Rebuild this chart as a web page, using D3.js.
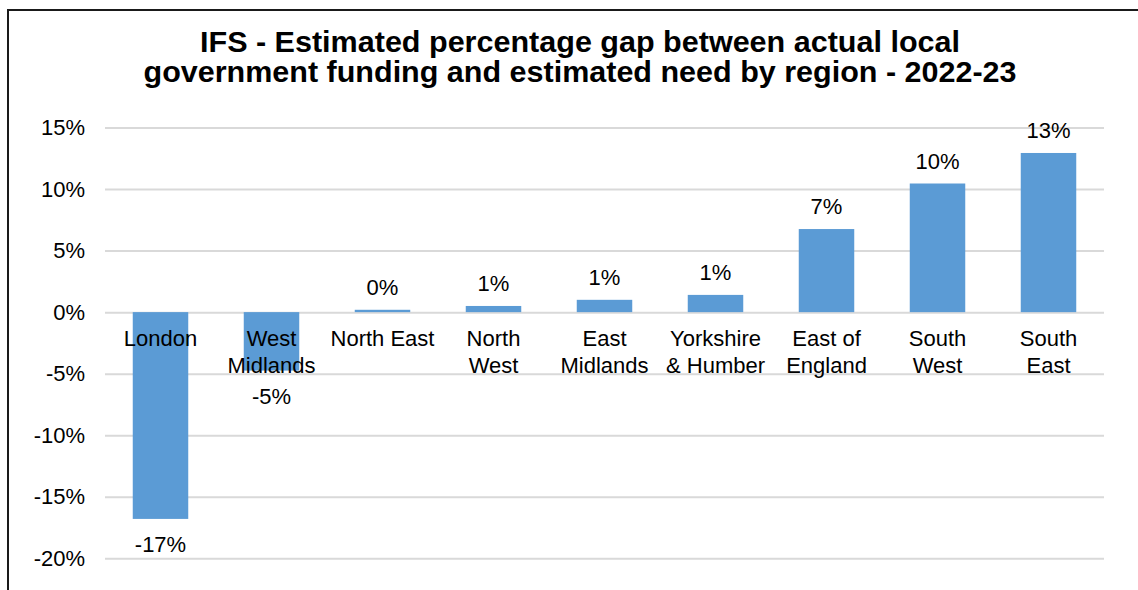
<!DOCTYPE html>
<html>
<head>
<meta charset="utf-8">
<script src="https://cdn.jsdelivr.net/npm/d3@7"></script>
<style>
  body { margin: 0; background: #fff; }
  text { font-family: Arial, "Liberation Sans", sans-serif; fill: #000; }
</style>
</head>
<body>
<svg width="1138" height="590"></svg>
<script>
let svg = d3.select("svg");

// data
let regions = ["London", "West Midlands", "North East", "North West", "East Midlands",
  "Yorkshire & Humber", "East of England", "South West", "South East"];
let labelLines = [["London"], ["West", "Midlands"], ["North East"], ["North", "West"],
  ["East", "Midlands"], ["Yorkshire", "& Humber"], ["East of", "England"],
  ["South", "West"], ["South", "East"]];
let gap = [-16.8, -4.75, 0.19, 0.5, 1.0, 1.4, 6.75, 10.45, 12.93];
let yTicks = [-20, -15, -10, -5, 0, 5, 10, 15];
let titleLines = ["IFS - Estimated percentage gap between actual local",
  "government funding and estimated need by region - 2022-23"];

let x = d3.scaleBand().domain(regions).range([105, 1104])
  .paddingInner(0.5).paddingOuter(0.25);
let y = d3.scaleLinear().domain([-20, 15]).range([558.3, 127.5]);

//frame
svg.append("rect")
  .attr("x", 8).attr("y", 10)
  .attr("width", 1300).attr("height", 700)
  .attr("fill", "none").attr("stroke", "#1a1a1a").attr("stroke-width", 2);

//title
svg.selectAll(".title")
  .data(titleLines)
  .enter()
  .append("text")
  .attr("class", "title")
  .attr("x", 580)
  .attr("y", (d, i) => 52 + i * 30)
  .attr("text-anchor", "middle")
  .attr("font-size", 30)
  .attr("font-weight", "bold")
  .attr("textLength", (d, i) => (i == 0 ? 760 : 873))
  .attr("lengthAdjust", "spacingAndGlyphs")
  .text(d => d);

//gridlines + y labels
let yAxis = svg.append("g")
  .attr("transform", "translate(105,0)")
  .call(d3.axisLeft(y).tickValues(yTicks).tickSize(-999).tickFormat(d => d + "%"));
yAxis.select(".domain").remove();
yAxis.selectAll("line").attr("stroke", "#d9d9d9").attr("stroke-width", 2);
yAxis.selectAll("text")
  .attr("x", -20)
  .attr("font-size", 22)
  .attr("font-family", "Arial, 'Liberation Sans', sans-serif")
  .attr("fill", "#000");

//bars
svg.selectAll(".bar")
  .data(gap)
  .enter()
  .append("rect")
  .attr("class", "bar")
  .attr("fill", "#5B9BD5")
  .attr("x", (d, i) => x(regions[i]))
  .attr("width", x.bandwidth())
  .attr("y", d => y(Math.max(0, d)))
  .attr("height", d => Math.abs(y(d) - y(0)));

//value labels
svg.selectAll(".val")
  .data(gap)
  .enter()
  .append("text")
  .attr("class", "val")
  .attr("x", (d, i) => x(regions[i]) + x.bandwidth() / 2)
  .attr("y", d => (d >= 0 ? y(d) - 15 : y(d) + 33))
  .attr("text-anchor", "middle")
  .attr("font-size", 22)
  .text(d => Math.round(d) + "%");

//category labels
let cats = svg.selectAll(".cat")
  .data(labelLines)
  .enter()
  .append("text")
  .attr("class", "cat")
  .attr("text-anchor", "middle")
  .attr("font-size", 22)
  .attr("transform", (d, i) => "translate(" + (x(regions[i]) + x.bandwidth() / 2) + "," + (y(0) + 33.5) + ")");
cats.selectAll("tspan")
  .data(d => d)
  .enter()
  .append("tspan")
  .attr("x", 0)
  .attr("y", (d, i) => i * 27)
  .text(d => d);
</script>
</body>
</html>
